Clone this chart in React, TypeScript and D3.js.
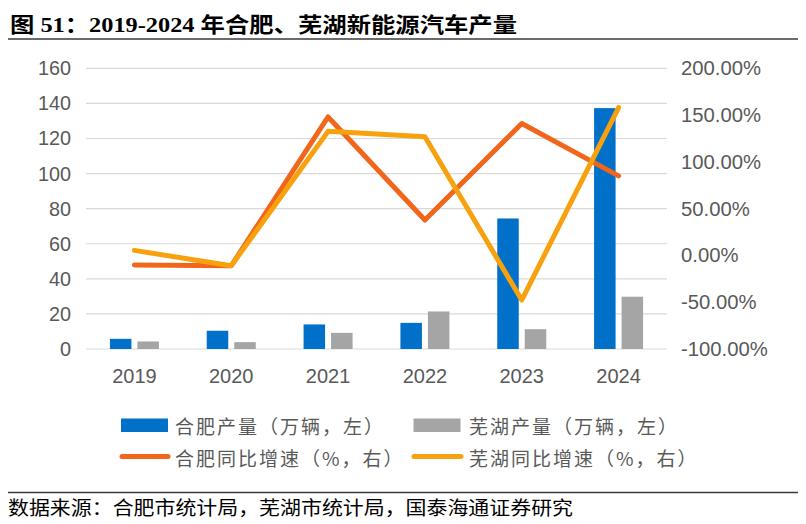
import React from 'react';
import * as d3 from 'd3';

const years = ['2019', '2020', '2021', '2022', '2023', '2024'];
const hefeiOutput = [5.8, 10.4, 14.0, 14.9, 74.4, 137.3];
const wuhuOutput = [4.3, 3.9, 9.2, 21.4, 11.3, 29.8];
const hefeiGrowth = [-10.3, -11.0, 148.0, 37.8, 141.0, 85.0];
const wuhuGrowth = [5.4, -11.0, 132.6, 126.9, -47.7, 158.0];
const leftTicks = [0, 20, 40, 60, 80, 100, 120, 140, 160];
const rightTicks = [-100, -50, 0, 50, 100, 150, 200];

const W = 806;
const H = 524;
const plot = {left: 86, right: 667, top: 68.3, bottom: 349};

const BLUE = '#0070C8';
const GRAY = '#A5A5A5';
const ORANGE = '#F2661B';
const YELLOW = '#F8A10E';
const TXT = '#595959';
const SANS = 'Liberation Sans, Arial, sans-serif';
const CJK = 'Noto Sans CJK SC, sans-serif';

const App: React.FC = () => {
  const x = d3.scaleBand<string>().domain(years).range([plot.left, plot.right]);
  const x1 = d3
    .scaleBand<string>()
    .domain(['hf', 'wh'])
    .range([-24.5, 24.5])
    .paddingInner(0.218);
  const yL = d3.scaleLinear().domain([0, 160]).range([plot.bottom, plot.top]);
  const yR = d3.scaleLinear().domain([-100, 200]).range([plot.bottom, plot.top]);
  const cx = (i: number) => x(years[i])! + x.bandwidth() / 2;

  const line = d3
    .line<number>()
    .x((_, i) => cx(i))
    .y((d) => yR(d));

  const bars = [
    {key: 'hf', values: hefeiOutput, color: BLUE},
    {key: 'wh', values: wuhuOutput, color: GRAY},
  ];

  return (
    <svg
      width={W}
      height={H}
      style={{position: 'absolute', left: 0, top: 0, background: '#fff'}}
    >
      {/* title */}
      <text
        x={10}
        y={31.5}
        fontSize={21}
        fontWeight="bold"
        fontFamily={`Liberation Serif, ${CJK}`}
        fill="#000"
        textLength={507}
        lengthAdjust="spacingAndGlyphs"
      >
        图 51：2019-2024 年合肥、芜湖新能源汽车产量
      </text>
      <line x1={8} x2={798} y1={39} y2={39} stroke="#3a3a3a" strokeWidth={1.5} />

      {/* grid */}
      {leftTicks.map((t) => (
        <line
          key={t}
          x1={plot.left}
          x2={plot.right}
          y1={yL(t)}
          y2={yL(t)}
          stroke="#D9D9D9"
          strokeWidth={1.2}
        />
      ))}

      {/* left axis labels */}
      {leftTicks.map((t) => (
        <text
          key={t}
          x={71}
          y={yL(t)}
          textAnchor="end"
          dominantBaseline="central"
          fontSize={19.8}
          fontFamily={SANS}
          fill={TXT}
        >
          {t}
        </text>
      ))}

      {/* right axis labels */}
      {rightTicks.map((t) => (
        <text
          key={t}
          x={681}
          y={yR(t)}
          dominantBaseline="central"
          fontSize={20.3}
          fontFamily={SANS}
          fill={TXT}
        >
          {`${t.toFixed(2)}%`}
        </text>
      ))}

      {/* year labels */}
      {years.map((yr, i) => (
        <text
          key={yr}
          x={cx(i)}
          y={376}
          textAnchor="middle"
          dominantBaseline="central"
          fontSize={20}
          fontFamily={SANS}
          fill={TXT}
        >
          {yr}
        </text>
      ))}

      {/* bars */}
      {bars.map((s) =>
        s.values.map((v, i) => (
          <rect
            key={s.key + i}
            x={cx(i) + x1(s.key)!}
            y={yL(v)}
            width={x1.bandwidth()}
            height={yL(0) - yL(v)}
            fill={s.color}
          />
        ))
      )}

      {/* growth lines */}
      <path
        d={line(hefeiGrowth)!}
        fill="none"
        stroke={ORANGE}
        strokeWidth={5}
        strokeLinecap="round"
        strokeLinejoin="round"
      />
      <path
        d={line(wuhuGrowth)!}
        fill="none"
        stroke={YELLOW}
        strokeWidth={5}
        strokeLinecap="round"
        strokeLinejoin="round"
      />

      {/* legend */}
      <g fontSize={19} fontFamily={CJK} fill={TXT} letterSpacing={2}>
        <rect x={121} y={418.5} width={47} height={13.5} fill={BLUE} />
        <text x={175} y={425} dominantBaseline="central">
          合肥产量（万辆，左）
        </text>
        <rect x={413.5} y={418.5} width={47} height={13.5} fill={GRAY} />
        <text x={469} y={425} dominantBaseline="central">
          芜湖产量（万辆，左）
        </text>
        <line x1={122} x2={168} y1={456.5} y2={456.5} stroke={ORANGE} strokeWidth={5} strokeLinecap="round" />
        <text x={175} y={457} dominantBaseline="central">
          合肥同比增速（%，右）
        </text>
        <line x1={414} x2={461} y1={456.5} y2={456.5} stroke={YELLOW} strokeWidth={5} strokeLinecap="round" />
        <text x={469} y={457} dominantBaseline="central">
          芜湖同比增速（%，右）
        </text>
      </g>

      {/* source */}
      <line x1={8} x2={798} y1={492.5} y2={492.5} stroke="#3a3a3a" strokeWidth={1.5} />
      <text
        x={8}
        y={506}
        dominantBaseline="central"
        fontSize={19}
        fontFamily={CJK}
        fill="#000"
        textLength={565}
        lengthAdjust="spacingAndGlyphs"
      >
        数据来源：合肥市统计局，芜湖市统计局，国泰海通证券研究
      </text>
    </svg>
  );
};

export default App;
